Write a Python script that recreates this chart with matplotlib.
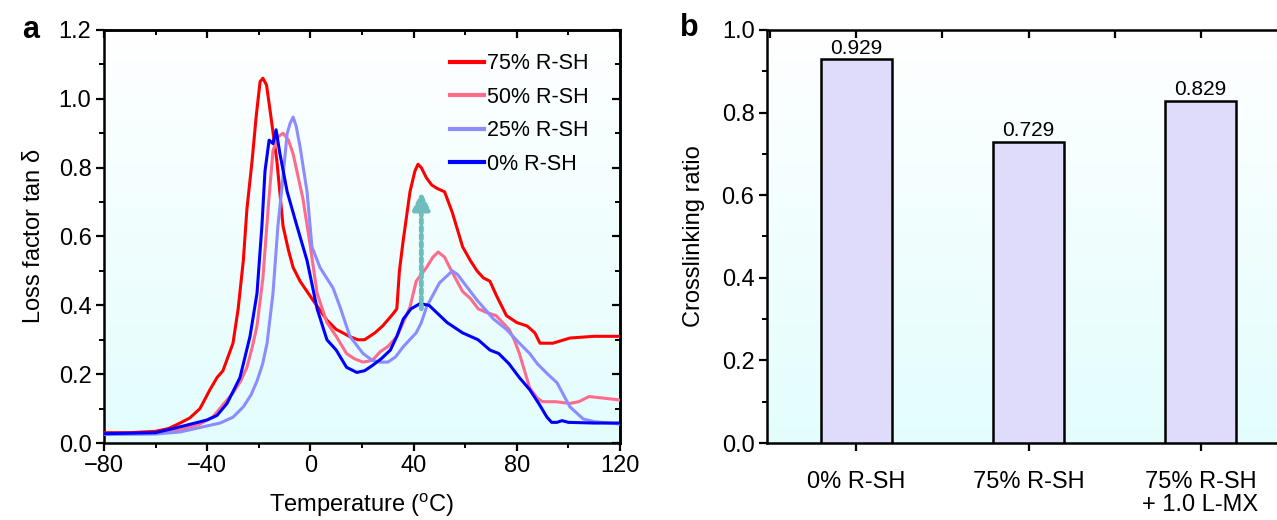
import numpy as np
import matplotlib
matplotlib.use("Agg")
import matplotlib.pyplot as plt
from matplotlib.ticker import MultipleLocator

plt.rcParams['font.family'] = ['Liberation Sans', 'DejaVu Sans']
plt.rcParams['mathtext.fontset'] = 'custom'
plt.rcParams['mathtext.rm'] = 'Liberation Sans'

# ---------------- data: panel a (tan delta vs temperature) ----------------
t_75 = [-80, -70, -60, -55, -50.5, -46.7, -42.8, -39, -36.2, -33.9, -30, -28, -26, -24.6, -22.6, -21, -19.5,
        -18.4, -17, -15.7, -13, -10.6, -8.5, -6.7, -4, 1, 6.4, 10, 12.6, 15, 18.4, 21, 25, 28, 32, 33.5,
        34.5, 36, 38.6, 40.5, 41.7, 43, 45, 47, 49, 52, 55, 59, 62, 64.6, 67, 69.6, 72, 76, 80, 84, 87, 89,
        94, 100.6, 110, 120]
v_75 = [0.030, 0.030, 0.034, 0.042, 0.058, 0.073, 0.100, 0.154, 0.19, 0.21, 0.29, 0.39, 0.53, 0.68, 0.82, 0.95, 1.05,
        1.06, 1.04, 0.97, 0.82, 0.63, 0.56, 0.51, 0.47, 0.415, 0.357, 0.33, 0.32, 0.31, 0.30, 0.30, 0.32, 0.34, 0.375, 0.39,
        0.50, 0.59, 0.73, 0.79, 0.81, 0.80, 0.77, 0.75, 0.74, 0.73, 0.67, 0.57, 0.53, 0.50, 0.48, 0.47, 0.43, 0.37, 0.35, 0.34, 0.32, 0.29,
        0.29, 0.305, 0.31, 0.31]

t_50 = [-80, -60, -50.5, -42.8, -37.8, -34, -30, -27, -24.6, -22.5, -20.7, -18.4, -16.4, -14.5, -12.5, -10.6, -8.5,
        -6.7, -2.9, -0.2, 2.6, 6.4, 10, 14, 17, 20.4, 24, 27, 30, 33.6, 36, 38.6, 41, 45, 47.5, 49.5, 52, 54,
        59, 62, 65, 68, 72, 77, 79, 81, 85, 88, 90, 95, 100.6, 104, 108, 114, 120]
v_50 = [0.025, 0.028, 0.038, 0.055, 0.076, 0.11, 0.145, 0.18, 0.22, 0.28, 0.34, 0.48, 0.68, 0.85, 0.89, 0.90, 0.88,
        0.84, 0.71, 0.58, 0.435, 0.35, 0.31, 0.26, 0.245, 0.235, 0.24, 0.265, 0.28, 0.31, 0.35, 0.395, 0.47, 0.51, 0.54, 0.555, 0.54, 0.51,
        0.44, 0.42, 0.39, 0.38, 0.37, 0.33, 0.30, 0.26, 0.16, 0.13, 0.12, 0.12, 0.115, 0.12, 0.135, 0.13, 0.125]

t_25 = [-80, -60, -50.5, -42.8, -35, -30, -26, -23, -20.7, -18.5, -16.8, -14.5, -12.6, -11, -9, -7.8, -6.7,
        -5.5, -4, -1.3, 0.6, 3.7, 8.8, 11.5, 15.3, 20.4, 24, 27, 30, 33, 36, 41, 43, 45, 50, 55, 57, 59,
        64.6, 71, 76, 81, 85, 88, 92, 95.6, 100.6, 105.7, 110, 113, 120]
v_25 = [0.025, 0.026, 0.032, 0.045, 0.058, 0.075, 0.105, 0.14, 0.18, 0.23, 0.29, 0.435, 0.63, 0.745, 0.90, 0.93, 0.947,
        0.92, 0.86, 0.73, 0.57, 0.51, 0.45, 0.395, 0.31, 0.26, 0.24, 0.235, 0.235, 0.25, 0.28, 0.32, 0.35, 0.395, 0.465, 0.50, 0.49, 0.47,
        0.415, 0.36, 0.33, 0.29, 0.26, 0.23, 0.20, 0.175, 0.105, 0.07, 0.062, 0.06, 0.055]

t_0 = [-80, -60, -50.5, -40, -36.2, -32.3, -27.3, -23.4, -20.7, -18.8, -17.6, -16, -14.5, -13.3, -11.8, -9,
       -5.2, -1.3, 2.6, 6.4, 10, 14, 18, 21, 24, 27.5, 31, 33.5, 36, 39, 42.5, 46, 49.5, 53, 59, 62, 65,
       69.6, 73, 77, 81, 85, 88.5, 91.7, 93.5, 95.6, 97.5, 100, 110, 120]
v_0 = [0.027, 0.03, 0.047, 0.067, 0.08, 0.115, 0.19, 0.31, 0.435, 0.63, 0.79, 0.88, 0.87, 0.91, 0.84, 0.73,
       0.63, 0.53, 0.39, 0.30, 0.27, 0.22, 0.205, 0.21, 0.225, 0.245, 0.27, 0.31, 0.36, 0.39, 0.405, 0.40, 0.375, 0.35, 0.32, 0.31, 0.30,
       0.27, 0.26, 0.23, 0.19, 0.155, 0.115, 0.075, 0.06, 0.06, 0.065, 0.06, 0.058, 0.058]

series_labels = ["75% R-SH", "50% R-SH", "25% R-SH", "0% R-SH"]
series_colors = ["#ff0000", "#ff6b8a", "#8c8cff", "#0000ff"]

arrow_T = 43
arrow_from = 0.39
arrow_to = 0.73

# ---------------- data: panel b (crosslinking ratio) ----------------
bar_cats = ["0% R-SH", "75% R-SH", "75% R-SH\n+ 1.0 L-MX"]
bar_vals = [0.929, 0.729, 0.829]
bar_text = ["0.929", "0.729", "0.829"]

# ---------------- figure ----------------
W, H = 1277, 520
fig = plt.figure(figsize=(W / 100, H / 100), dpi=100)

def px_axes(x0, y0, x1, y1):
    return fig.add_axes([x0 / W, 1 - y1 / H, (x1 - x0) / W, (y1 - y0) / H])

def gradient_bg(ax):
    top = np.array([1.0, 1.0, 1.0])
    bot = np.array([0.89, 0.992, 0.992])
    n = 256
    f = np.linspace(0, 1, n)[:, None]
    img = (top[None, :] * (1 - f) + bot[None, :] * f)[:, None, :]
    ax.imshow(img, extent=[0, 1, 0, 1], transform=ax.transAxes, aspect='auto', zorder=0,
              interpolation='bilinear')

TICK_FS = 17
LABEL_FS = 17

# ----- panel a -----
axa = px_axes(104, 30, 620, 443)
gradient_bg(axa)
for t, v, lab, col in zip([t_75, t_50, t_25, t_0], [v_75, v_50, v_25, v_0], series_labels, series_colors):
    axa.plot(t, v, color=col, lw=2.2, label=lab, zorder=3)
axa.set_xlim(-80, 120)
axa.set_ylim(0, 1.2)
axa.xaxis.set_minor_locator(MultipleLocator(20))
axa.yaxis.set_major_locator(MultipleLocator(0.2))
axa.yaxis.set_minor_locator(MultipleLocator(0.1))
axa.set_xticks([-80, -40, 0, 40, 80, 120])
axa.set_xticklabels(["\u221280", "\u221240", "0", "40", "80", "120"])
axa.yaxis.set_major_formatter(matplotlib.ticker.FormatStrFormatter('%.1f'))
axa.tick_params(which='major', direction='out', length=6, width=1.6, labelsize=TICK_FS, pad=3)
axa.tick_params(which='minor', direction='out', length=3.5, width=1.4)
for s in axa.spines.values():
    s.set_linewidth(1.8)
secx = axa.secondary_xaxis('top')
secx.xaxis.set_major_locator(MultipleLocator(40))
secx.xaxis.set_minor_locator(MultipleLocator(20))
secx.tick_params(which='major', direction='in', length=6, width=1.6, labeltop=False)
secx.tick_params(which='minor', direction='in', length=3.5, width=1.4)
secx.spines['top'].set_linewidth(1.8)
secy = axa.secondary_yaxis('right')
secy.yaxis.set_major_locator(MultipleLocator(0.2))
secy.yaxis.set_minor_locator(MultipleLocator(0.1))
secy.tick_params(which='major', direction='in', length=6, width=1.6, labelright=False)
secy.tick_params(which='minor', direction='in', length=3.5, width=1.4)
secy.spines['right'].set_linewidth(1.8)

axa.set_xlabel(r"Temperature ($\mathregular{^o}$C)", fontsize=LABEL_FS, labelpad=10)
axa.set_ylabel(r"Loss factor tan $\mathregular{\delta}$", fontsize=LABEL_FS, labelpad=10)

# dotted arrow
axa.annotate("", xy=(arrow_T, arrow_to), xytext=(arrow_T, arrow_from),
             arrowprops=dict(arrowstyle="-|>,head_length=1.0,head_width=0.5", color="#6fbcbc",
                             lw=3.5, linestyle=(0, (0.8, 0.8)), shrinkA=0, shrinkB=0), zorder=4)

leg = axa.legend(loc='upper right', bbox_to_anchor=(0.965, 0.975), frameon=False, fontsize=15.5,
                 handlelength=1.6, handletextpad=0.15, labelspacing=0.58, borderaxespad=0.2)
for line in leg.get_lines():
    line.set_linewidth(3)

fig.text(22 / W, 1 - 30 / H, "a", fontsize=22, fontweight='bold', va='center', ha='left')

# ----- panel b -----
axb = px_axes(767, 30, 767 + 523, 443)
gradient_bg(axb)
xpos = np.arange(len(bar_cats))
axb.bar(xpos, bar_vals, width=0.41, color="#dedcfa", edgecolor="black", linewidth=1.8, zorder=3)
for x, v, s in zip(xpos, bar_vals, bar_text):
    axb.text(x, v + 0.004, s, ha='center', va='bottom', fontsize=15, zorder=4)
axb.set_xlim(-0.52, 2.52)
axb.set_ylim(0, 1.0)
axb.set_xticks(xpos)
axb.set_xticklabels(bar_cats, fontsize=17, linespacing=1.1)
axb.yaxis.set_major_locator(MultipleLocator(0.2))
axb.yaxis.set_minor_locator(MultipleLocator(0.1))
axb.yaxis.set_major_formatter(matplotlib.ticker.FormatStrFormatter('%.1f'))
axb.tick_params(axis='y', which='major', direction='out', length=6, width=1.6, labelsize=TICK_FS, pad=3)
axb.tick_params(axis='y', which='minor', direction='out', length=3.5, width=1.4)
axb.tick_params(axis='x', which='major', direction='out', length=6, width=1.6, pad=14)
for s in axb.spines.values():
    s.set_linewidth(1.8)
axb.spines['top'].set_visible(False)
secbx = axb.secondary_xaxis('top')
secbx.xaxis.set_major_locator(MultipleLocator(1.0))
secbx.xaxis.set_minor_locator(MultipleLocator(0.5))
secbx.tick_params(which='major', direction='in', length=6, width=1.6, labeltop=False)
secbx.tick_params(which='minor', direction='in', length=6, width=1.6)
secbx.spines['top'].set_linewidth(1.8)
axb.set_ylabel("Crosslinking ratio", fontsize=LABEL_FS, labelpad=12)

fig.text(680 / W, 1 - 28 / H, "b", fontsize=22, fontweight='bold', va='center', ha='left')

fig.savefig("out.png", dpi=100)
